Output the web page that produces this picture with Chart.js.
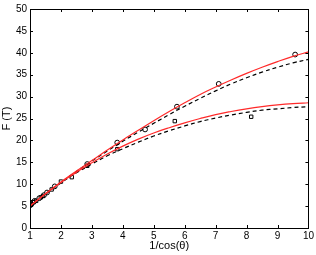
<!DOCTYPE html>
<html>
<head>
    <title>F vs 1/cos(theta)</title>
    <script src="https://cdn.jsdelivr.net/npm/chart.js@4.4.0/dist/chart.umd.min.js"></script>
    <style>
        html, body { margin: 0; padding: 0; background: #fff; }
    </style>
</head>
<body>
    <canvas id="plot" width="316" height="255"></canvas>
    <script type="text/javascript">
    // curve sample points (x = 1/cos(theta))
    var curveX = [1, 1.5, 2, 2.5, 3, 3.5, 4, 4.5, 5, 5.5, 6, 6.5, 7, 7.5, 8, 8.5, 9, 9.5, 10];
    var upperFit = [5.0, 7.8, 10.5, 13.0, 15.4, 17.8, 20.1, 22.3, 24.5, 26.6, 28.6, 30.5, 32.2, 33.8, 35.3, 36.7, 38.0, 39.2, 40.2];
    var upperTheory = [5.0, 7.8, 10.4, 12.9, 15.3, 17.6, 19.8, 21.9, 23.9, 25.9, 27.8, 29.6, 31.3, 32.9, 34.3, 35.6, 36.7, 37.7, 38.5];
    var lowerFit = [5.0, 7.8, 10.4, 12.7, 14.9, 16.9, 18.7, 20.3, 21.7, 22.9, 24.0, 25.0, 25.9, 26.6, 27.2, 27.7, 28.1, 28.4, 28.6];
    var lowerTheory = [5.0, 7.7, 10.3, 12.6, 14.6, 16.5, 18.1, 19.6, 21.0, 22.2, 23.3, 24.3, 25.1, 25.8, 26.4, 26.9, 27.2, 27.5, 27.7];

    // measured points
    var circleX = [1.0, 1.03, 1.08, 1.15, 1.3, 1.45, 1.55, 1.8, 2.85, 3.82, 4.72, 5.75, 7.1, 9.57];
    var circleY = [5.3, 5.5, 5.8, 6.2, 6.8, 7.5, 8.1, 9.5, 14.6, 19.5, 22.5, 27.7, 32.9, 39.6];
    var squareX = [1.0, 1.05, 1.12, 1.2, 1.35, 1.42, 1.7, 2.0, 2.35, 2.85, 3.82, 5.68, 8.15];
    var squareY = [5.1, 5.4, 5.9, 6.2, 7.0, 7.3, 8.8, 10.6, 11.6, 14.2, 18.0, 24.4, 25.4];

    var xTicks = [1, 2, 3, 4, 5, 6, 7, 8, 9, 10];
    var yTicks = [0, 5, 10, 15, 20, 25, 30, 35, 40, 45, 50];

    function pts(xs, ys) {
        var out = [];
        for (var i = 0; i < xs.length; i++) {
            out.push({ x: xs[i], y: ys[i] });
        }
        return out;
    }

    function curve(ys, color, dash) {
        return {
            type: 'line',
            data: pts(curveX, ys),
            borderColor: color,
            borderWidth: 1.2,
            borderDash: dash,
            pointRadius: 0,
            fill: false,
            tension: 0.4
        };
    }

    function markers(xs, ys, style) {
        return {
            type: 'scatter',
            data: pts(xs, ys),
            pointStyle: style,
            pointRadius: 2.4,
            borderWidth: 1,
            borderColor: '#000',
            backgroundColor: 'rgba(0,0,0,0)'
        };
    }

    var fontFamily = "'Liberation Sans Narrow', 'Liberation Sans', Arial, sans-serif";
    var font = { family: fontFamily, size: 10 };

    // box around the plot with inward ticks on every side, plus axis titles
    var boxPlugin = {
        id: 'boxTicks',
        afterDatasetsDraw: function(chart) {
            var ctx = chart.ctx;
            var a = chart.chartArea;
            var xs = chart.scales.x, ys = chart.scales.y;
            ctx.save();
            ctx.strokeStyle = '#000';
            ctx.lineWidth = 1;
            ctx.strokeRect(Math.round(a.left) + 0.5, Math.round(a.top) + 0.5,
                Math.round(a.right - a.left), Math.round(a.bottom - a.top));
            ctx.beginPath();
            xTicks.forEach(function(v) {
                var px = Math.round(xs.getPixelForValue(v)) + 0.5;
                ctx.moveTo(px, a.bottom); ctx.lineTo(px, a.bottom - 3);
                ctx.moveTo(px, a.top); ctx.lineTo(px, a.top + 3);
            });
            yTicks.forEach(function(v) {
                var py = Math.round(ys.getPixelForValue(v)) + 0.5;
                ctx.moveTo(a.left, py); ctx.lineTo(a.left + 3, py);
                ctx.moveTo(a.right, py); ctx.lineTo(a.right - 3, py);
            });
            ctx.stroke();

            ctx.fillStyle = '#000';
            ctx.font = '11px ' + fontFamily;
            ctx.textAlign = 'center';
            ctx.textBaseline = 'middle';
            ctx.fillText('1/cos(θ)', (a.left + a.right) / 2, 246);
            ctx.translate(7, (a.top + a.bottom) / 2);
            ctx.rotate(-Math.PI / 2);
            ctx.fillText('F (T)', 0, 0);
            ctx.restore();
        }
    };

    new Chart(document.getElementById('plot'), {
        data: {
            datasets: [
                curve(upperFit, '#ff2a2a', []),
                curve(lowerFit, '#ff2a2a', []),
                curve(upperTheory, '#000', [4, 3]),
                curve(lowerTheory, '#000', [4, 3]),
                markers(circleX, circleY, 'circle'),
                markers(squareX, squareY, 'rect')
            ]
        },
        options: {
            responsive: false,
            animation: false,
            devicePixelRatio: 1,
            layout: { padding: { top: 9, right: 7, left: 0, bottom: 0 } },
            plugins: {
                legend: { display: false },
                tooltip: { enabled: false }
            },
            scales: {
                x: {
                    type: 'linear',
                    min: 1,
                    max: 10,
                    afterBuildTicks: function(s) { s.ticks = xTicks.map(function(v) { return { value: v }; }); },
                    afterFit: function(s) { s.height = 27; },
                    grid: { display: false, drawTicks: false },
                    border: { display: false },
                    ticks: { color: '#000', font: font, padding: 2, maxRotation: 0 }
                },
                y: {
                    type: 'linear',
                    min: 0,
                    max: 50,
                    afterBuildTicks: function(s) { s.ticks = yTicks.map(function(v) { return { value: v }; }); },
                    afterFit: function(s) { s.width = 30; },
                    grid: { display: false, drawTicks: false },
                    border: { display: false },
                    ticks: { color: '#000', font: font, padding: 3 }
                }
            }
        },
        plugins: [boxPlugin]
    });
    </script>
</body>
</html>
